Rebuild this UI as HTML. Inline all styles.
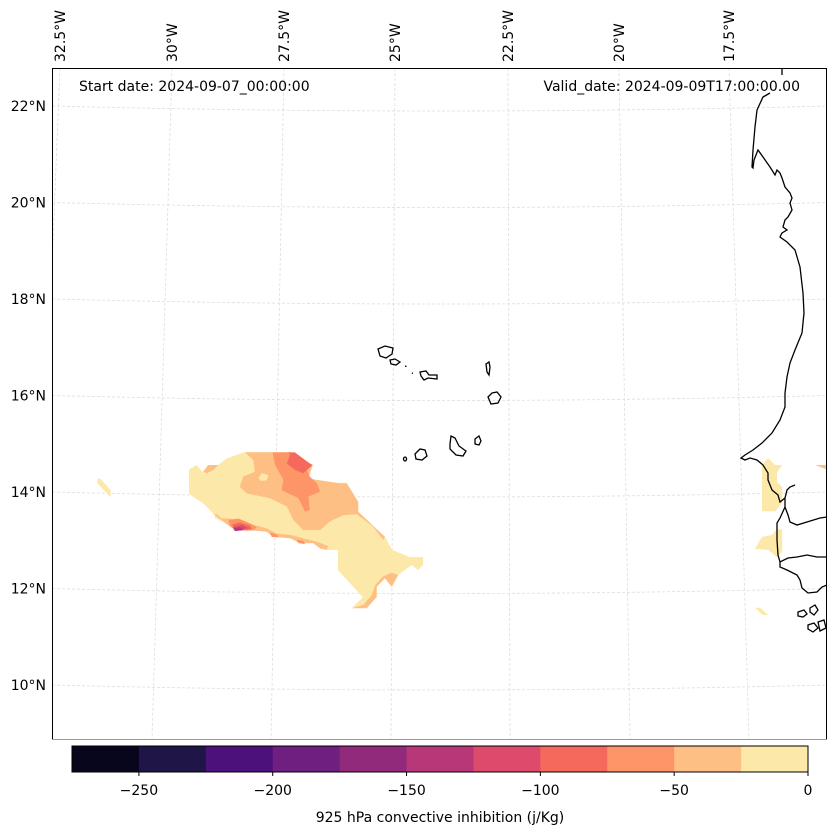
<!DOCTYPE html>
<html><head><meta charset="utf-8"><style>
body{margin:0;background:#fff;}
svg{display:block;font-family:"DejaVu Sans","Liberation Sans",sans-serif;}
</style></head><body>
<svg id="chart" width="837" height="836" viewBox="0 0 837 836" xmlns="http://www.w3.org/2000/svg">
<defs><clipPath id="mapclip"><rect x="52" y="68" width="775" height="671"/></clipPath></defs>
<rect width="837" height="836" fill="#fff"/>
<g clip-path="url(#mapclip)">
<g id="grid"></g>
<g id="fills"></g>
<g id="coast" fill="none" stroke="#000" stroke-width="1.3">
<path d="M782,68 L782,75 M770,93 L763,97 L757,110 L755,127 L753,150 L752,167 L753,168 L754,160 L758,150 L763,157 L770,167 L775,175 L777,170 L780,173 L782,178 L785,187 L790,193 L792,198 L790,203 L792,210 L788,217 L785,220 L783,227 L787,230 L782,233 L780,237 L787,242 L795,250 L800,267 L803,293 L804,313 L802,333 L795,350 L790,363 L787,377 L785,393 L785,407 L780,420 L772,433 L762,443 L753,450 L745,455 L741,458 L745,460 L750,458 L757,460 L763,465 L768,473 L768,480 L772,490 L778,495 L780,502 L785,498 L787,490 L790,487 L795,485 M785,498 L785,507 L788,515 L790,522 L797,525 L807,522 L820,518 L827,517 M785,507 L780,518 L777,523 L777,540 L778,555 L780,562 L788,558 L797,557 L807,555 L817,557 L827,557 M780,562 L780,567 L787,570 L797,575 L800,580 L802,588 L808,593 L817,592 L822,587 L827,585"/>
<path d="M798,612 l6,-2 l3,4 l-4,3 l-5,-1z M810,608 l5,-3 l3,5 l-4,5 l-4,-3z M808,625 l6,-2 l4,5 l-5,4 l-5,-3z M818,622 l6,-2 l2,8 l-6,3z"/>
<path d="M378,349 L385,346 L393,348 L392,354 L386,358 L380,356z M390,360 L395,359 L400,362 L396,365 L391,364z M405,366 l1.5,0.5 M412,373 l1,0.5 M420,372 L426,371 L429,375 L437,375 L437,379 L428,378 L424,380 L421,376z M486,364 L489,362 L490,367 L489,375 L487,372z M488,397 L492,393 L497,392 L501,397 L498,403 L491,404z M405,457 a1.5,2 0 1,0 0.1,0z M415,454 L420,449 L425,450 L427,456 L422,460 L416,459z M450,444 L451,436 L455,438 L459,446 L466,451 L463,456 L456,455 L450,449z M475,439 L479,436 L481,441 L479,445 L475,444z"/>
</g>
</g>
<g id="frame">
<line x1="52" y1="739.5" x2="827" y2="739.5" stroke="#999" stroke-width="1"/>
<path d="M52.5,739 L52.5,68.5 L826.5,68.5 L826.5,739" fill="none" stroke="#000" stroke-width="1"/>
</g>
<g id="labels" font-size="14" fill="#000">
<text x="79" y="91">Start date: 2024-09-07_00:00:00</text>
<text x="800" y="91" text-anchor="end">Valid_date: 2024-09-09T17:00:00.00</text>
</g>
<g id="ticks" font-size="14" fill="#000"></g>
<g id="cbar"></g>
<text x="440" y="822" font-size="14" text-anchor="middle">925 hPa convective inhibition (j/Kg)</text>
</svg>
<script>
const NS='http://www.w3.org/2000/svg';
// ---- data ----
const levels=[-275,-250,-225,-200,-175,-150,-125,-100,-75,-50,-25,0];
const colors=['#07061c','#1f1547','#4c117a','#6f1f80','#922a7c','#b73779','#dd4a6b','#f4695c','#fd9567','#febf84','#fce8a9'];
const cbarTicks=[-250,-200,-150,-100,-50,0];
const latTicks=[22,20,18,16,14,12,10];
const lonTicks=[-32.5,-30,-27.5,-25,-22.5,-20,-17.5];
const lonTopX=[60,172,284,395,508,619,729];
const lonBotX=[33,152,271,391,510,630,749];
const polyOuter=[[-29.34,14.46],[-29.19,14.56],[-29.04,14.41],[-28.94,14.56],[-28.72,14.56],[-28.53,14.70],[-28.15,14.83],[-27.19,14.83],[-26.77,14.60],[-26.70,14.56],[-26.81,14.29],[-26.62,14.25],[-26.17,14.19],[-25.98,14.19],[-25.74,13.79],[-25.74,13.59],[-25.17,13.07],[-25.02,12.80],[-24.64,12.65],[-24.36,12.65],[-24.36,12.49],[-24.47,12.38],[-24.60,12.49],[-24.89,12.28],[-25.02,12.03],[-25.17,12.22],[-25.34,12.03],[-25.34,11.82],[-25.55,11.60],[-25.87,11.60],[-25.64,11.82],[-26.17,12.38],[-26.17,12.80],[-26.40,12.80],[-26.55,12.84],[-26.70,12.94],[-26.98,12.94],[-27.19,13.05],[-27.55,13.07],[-27.68,13.17],[-27.94,13.21],[-28.11,13.21],[-28.36,13.21],[-28.62,13.38],[-28.79,13.46],[-28.79,13.52],[-29.04,13.77],[-29.26,13.90],[-29.34,13.98]];
const polyOrangeMain=[[-28.15,14.82],[-27.19,14.82],[-26.77,14.59],[-26.71,14.56],[-26.80,14.28],[-26.62,14.25],[-26.16,14.18],[-25.99,14.18],[-25.74,13.80],[-25.74,13.59],[-25.17,13.07],[-25.21,13.01],[-25.42,13.28],[-25.77,13.54],[-26.06,13.52],[-26.34,13.39],[-26.55,13.21],[-26.91,13.21],[-27.12,13.42],[-27.26,13.70],[-27.62,13.87],[-28.11,13.97],[-28.26,14.11],[-28.19,14.32],[-27.94,14.42],[-27.97,14.66]];
const polyYellowHole=[[-27.86,14.30],[-27.79,14.39],[-27.65,14.35],[-27.69,14.24],[-27.83,14.23]];
const polyOrangeTri=[[-29.04,14.42],[-28.93,14.56],[-28.72,14.56],[-28.82,14.46],[-28.96,14.39]];
const polyOrangeRim=[[-28.82,13.54],[-28.61,13.39],[-28.36,13.21],[-28.11,13.21],[-27.69,13.18],[-27.55,13.07],[-27.19,13.04],[-26.98,12.94],[-26.70,12.94],[-26.55,12.83],[-26.41,12.80],[-26.38,12.88],[-26.62,12.97],[-26.91,13.04],[-27.19,13.11],[-27.48,13.14],[-27.69,13.25],[-27.97,13.32],[-28.26,13.39],[-28.47,13.45],[-28.65,13.45],[-28.75,13.54]];
const polyOrangeRight=[[-25.88,11.59],[-25.56,11.59],[-25.35,11.83],[-25.35,12.04],[-25.17,12.21],[-25.03,12.04],[-24.89,12.28],[-25.03,12.33],[-25.21,12.25],[-25.38,12.07],[-25.45,11.87],[-25.63,11.66]];
const polyL75=[[-27.56,14.82],[-27.19,14.82],[-26.91,14.66],[-26.77,14.32],[-26.62,14.18],[-26.55,14.01],[-26.80,13.90],[-26.77,13.63],[-26.87,13.59],[-27.01,13.87],[-27.37,14.04],[-27.33,14.25],[-27.51,14.56]];
const polyL100=[[-27.23,14.82],[-27.09,14.82],[-26.77,14.59],[-26.71,14.56],[-26.91,14.39],[-27.09,14.46],[-27.26,14.59],[-27.19,14.77]];
const polyP75=[[-28.50,13.42],[-28.29,13.45],[-28.04,13.35],[-27.90,13.27],[-27.97,13.21],[-28.11,13.20],[-28.36,13.21],[-28.47,13.30]];
const polyP100=[[-28.43,13.32],[-28.26,13.37],[-28.04,13.30],[-28.01,13.23],[-28.33,13.20]];
const polyP125=[[-28.41,13.27],[-28.22,13.32],[-28.08,13.25],[-28.33,13.20]];
const polyP150=[[-28.40,13.24],[-28.26,13.27],[-28.18,13.21],[-28.36,13.19]];
const polyBit1=[[-27.62,13.16],[-27.47,13.12],[-27.44,13.06],[-27.58,13.07]];
const polyBit2=[[-27.05,13.01],[-26.91,12.99],[-26.87,12.92],[-27.01,12.94]];
const polyWestPatch=[[-31.29,14.28],[-31.23,14.28],[-31.01,14.04],[-31.01,13.89],[-31.29,14.18]];
const polyCoast1=[[-17.15,14.56],[-17.02,14.70],[-16.87,14.56],[-16.72,14.56],[-16.83,14.41],[-16.83,14.21],[-16.72,14.10],[-16.72,13.77],[-16.87,13.60],[-17.15,13.60]];
const polyCoast2=[[-17.30,12.82],[-17.15,13.07],[-16.94,13.11],[-16.83,13.23],[-16.72,13.23],[-16.72,12.76],[-16.83,12.65],[-17.02,12.80]];
const polyCoast3=[[-17.30,11.60],[-17.19,11.60],[-17.02,11.45],[-17.13,11.45]];
const polyCoast4=[[-16.02,14.56],[-15.51,14.56],[-15.51,14.41],[-15.62,14.41]];
const contourLayers=[
 ['contour-outer-0-25',polyOuter,-10],
 ['contour-west-patch',polyWestPatch,-10],
 ['contour-coast-patch-1',polyCoast1,-10],
 ['contour-coast-patch-2',polyCoast2,-10],
 ['contour-coast-patch-3',polyCoast3,-10],
 ['contour-coast-patch-4',polyCoast4,-30],
 ['contour-orange-main',polyOrangeMain,-30],
 ['contour-yellow-hole',polyYellowHole,-10],
 ['contour-orange-tri',polyOrangeTri,-30],
 ['contour-orange-rim',polyOrangeRim,-30],
 ['contour-orange-right',polyOrangeRight,-30],
 ['contour-75',polyL75,-60],
 ['contour-100',polyL100,-80],
 ['contour-rim-75',polyP75,-60],
 ['contour-rim-100',polyP100,-80],
 ['contour-rim-125',polyP125,-110],
 ['contour-rim-150',polyP150,-140],
 ['contour-bit-1',polyBit1,-60],
 ['contour-bit-2',polyBit2,-60]
];
const KX=47,KY=48.25;
function px(lon){return 393+(lon+25)*KX;}
function py(lat){return 106+(22-lat)*KY;}
function colorFor(v){for(let i=0;i<colors.length;i++){if(v>=levels[i]&&v<levels[i+1])return colors[i];}return colors[colors.length-1];}
function mk(tag,attrs,parent){const e=document.createElementNS(NS,tag);for(const k in attrs)e.setAttribute(k,attrs[k]);parent.appendChild(e);return e;}
const grid=document.getElementById('grid');
const ticks=document.getElementById('ticks');
latTicks.forEach(function(lat){
  const y=py(lat);
  const p=mk('path',{d:'M52,'+y+' Q440,'+(y+10)+' 827,'+y,fill:'none',stroke:'#ddd','stroke-width':0.8,'stroke-dasharray':'3,2'},grid);
  
  
  const t=mk('text',{x:46,y:y+5,'text-anchor':'end'},ticks);
  t.textContent=lat+'°N';
  
  
});
lonTicks.forEach(function(lon,i){
  const l=mk('line',{x1:lonTopX[i],y1:68,x2:lonBotX[i],y2:739,stroke:'#ddd','stroke-width':0.8,'stroke-dasharray':'3,2'},grid);
  
  
  const t=mk('text',{x:0,y:0,transform:'translate('+(lonTopX[i]+5)+',62) rotate(-90)'},ticks);
  t.textContent=Math.abs(lon)+'°W';
  
  
});
const fills=document.getElementById('fills');
contourLayers.forEach(function(L){
  const pts=L[1].map(function(p){return px(p[0]).toFixed(1)+','+py(p[1]).toFixed(1);}).join(' ');
  const e=mk('polygon',{points:pts,fill:colorFor(L[2])},fills);
  
  
});
const cb=document.getElementById('cbar');
const cbX0=72,cbX1=808,cbY=746,cbH=26;
function cx(v){return cbX0+(v-levels[0])/(levels[levels.length-1]-levels[0])*(cbX1-cbX0);}
colors.forEach(function(c,i){
  const r=mk('rect',{x:cx(levels[i]),y:cbY,width:cx(levels[i+1])-cx(levels[i])+0.5,height:cbH,fill:c},cb);
  
  
});
mk('rect',{x:cbX0,y:cbY,width:cbX1-cbX0,height:cbH,fill:'none',stroke:'#000','stroke-width':1},cb);
cbarTicks.forEach(function(v){
  const x=cx(v);
  mk('line',{x1:x,y1:cbY+cbH,x2:x,y2:cbY+cbH+4,stroke:'#000'},cb);
  const t=mk('text',{x:x,y:795,'text-anchor':'middle','font-size':14},cb);
  t.textContent=(v<0?'\u2212'+Math.abs(v):String(v));
  
  
});
</script>
</body></html>
